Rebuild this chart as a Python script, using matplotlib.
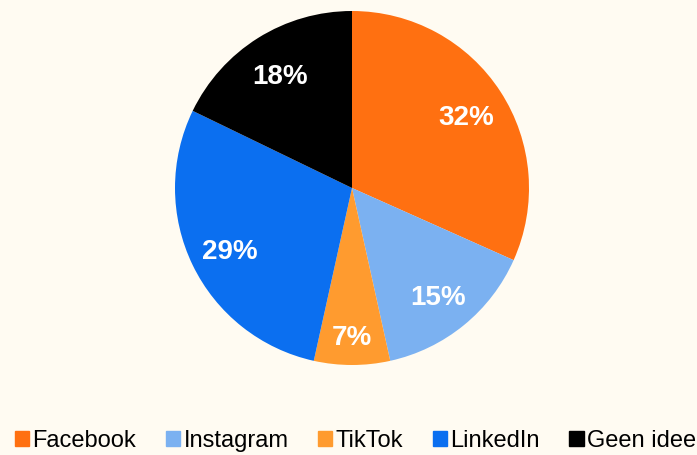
import matplotlib
matplotlib.use("Agg")
import matplotlib.pyplot as plt
import numpy as np
from matplotlib.patches import Patch

categories = ["Facebook", "Instagram", "TikTok", "LinkedIn", "Geen idee"]
values = [32, 15, 7, 29, 18]
colors = ["#FF7011", "#7BB1F1", "#FF9B2F", "#0B6FF0", "#000000"]
bg = "#FFFBF2"

plt.rcParams['font.family'] = ['Liberation Sans', 'DejaVu Sans']

fig = plt.figure(figsize=(6.97, 4.55), dpi=100, facecolor=bg)
W, H = 697, 455
cx, cy, r = 352, 188, 177
ax = fig.add_axes([(cx - r) / W, (H - cy - r) / H, 2 * r / W, 2 * r / H])
ax.set_facecolor(bg)
wedges, _ = ax.pie(values, colors=colors, startangle=90, counterclock=False,
                   wedgeprops=dict(linewidth=0))
for w, v in zip(wedges, values):
    ang = np.deg2rad((w.theta1 + w.theta2) / 2)
    d = 0.82 if v < 10 else 0.77
    ax.text(d * np.cos(ang), d * np.sin(ang) - 0.025, f"{v}%", color="white",
            fontsize=20, fontweight="bold", ha="center", va="center")
ax.set_aspect("equal")
ax.set_xlim(-1, 1)
ax.set_ylim(-1, 1)
ax.axis("off")

handles = [Patch(facecolor=c, edgecolor=c, label=l) for c, l in zip(colors, categories)]
fig.legend(handles=handles, loc="center", bbox_to_anchor=(0.5 + 7 / W, (H - 441) / H), ncol=5,
           frameon=False, fontsize=17, handlelength=0.6, handleheight=0.6,
           handletextpad=0.15, columnspacing=1.25, borderaxespad=0)

fig.savefig("out.png", dpi=100, facecolor=bg)
